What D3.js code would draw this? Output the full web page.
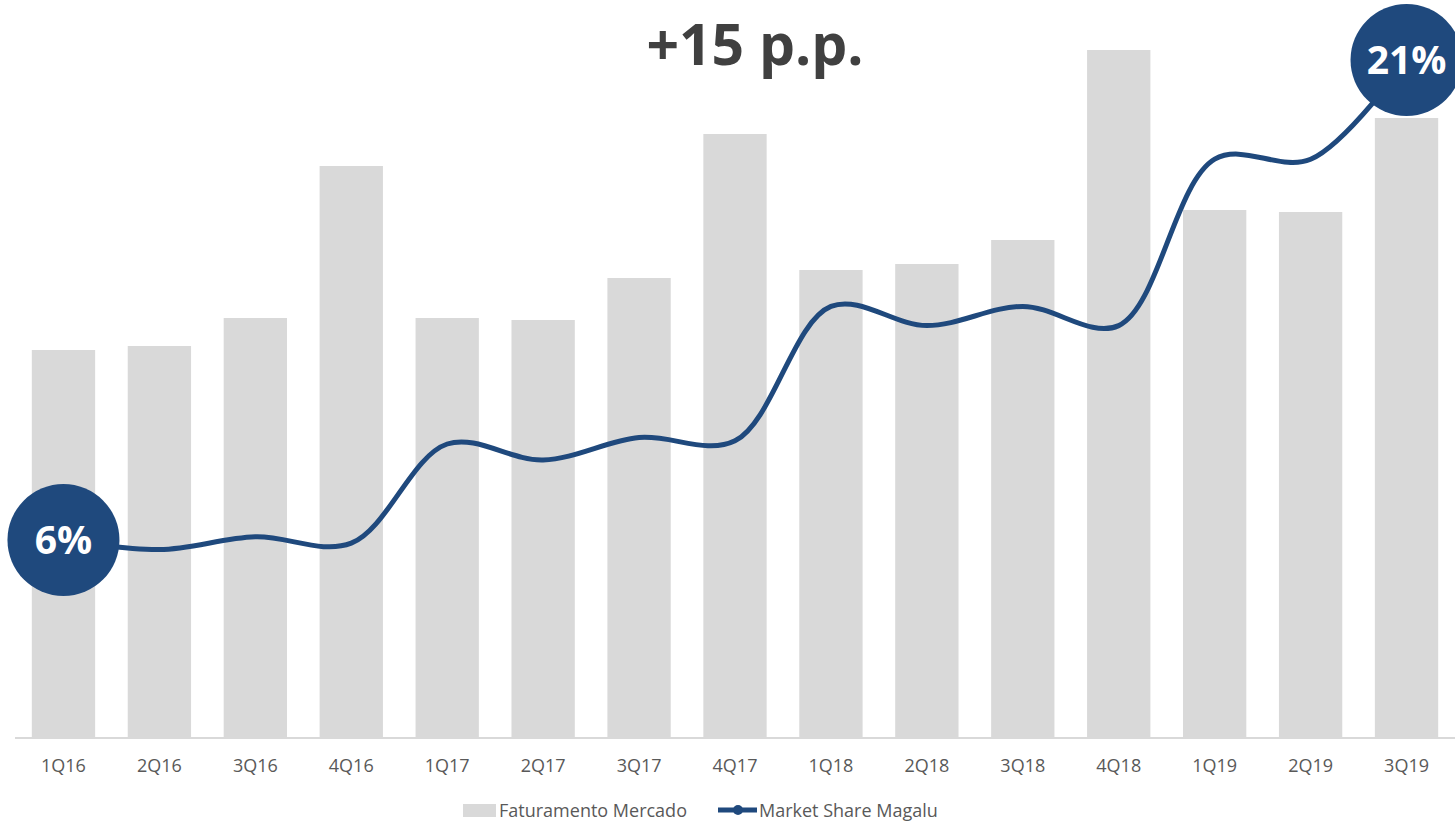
<!DOCTYPE html>
<html lang="en">
<head>
<meta charset="utf-8" />
<script src="https://d3js.org/d3.v7.min.js"></script>
<style>
  body { margin: 0; background: #fff; }
  text { font-family: "Open Sans", "DejaVu Sans", sans-serif; }
</style>
</head>
<body>
<script>
// quarters
var quarters = ["1Q16","2Q16","3Q16","4Q16","1Q17","2Q17","3Q17","4Q17","1Q18","2Q18","3Q18","4Q18","1Q19","2Q19","3Q19"];
// Faturamento Mercado (bars, estimated units)
var mercado = [9.7, 9.8, 10.5, 14.3, 10.5, 10.45, 11.5, 15.1, 11.7, 11.85, 12.45, 17.2, 13.2, 13.15, 15.5];
// Market Share Magalu (%)
var share = [6.0, 5.7, 6.1, 5.9, 9.0, 8.5, 9.2, 9.1, 13.3, 12.7, 13.3, 12.7, 17.9, 17.9, 21.0];

var w = 1455, h = 822;
var base = 738;

var svg = d3.select("body").append("svg")
    .attr("width", w)
    .attr("height", h);

var x = d3.scaleBand()
    .domain(quarters)
    .range([15.5, 1454.5])
    .paddingInner(0.34)
    .paddingOuter(0.17);

var yBar = d3.scaleLinear().domain([0, 18.45]).range([base, 0]);
var yLine = d3.scaleLinear().domain([0, 22.875]).range([732, 0]);

//bars
svg.selectAll("rect.bar")
    .data(mercado)
    .enter()
    .append("rect")
    .attr("class", "bar")
    .attr("x", function(d, i) { return x(quarters[i]); })
    .attr("y", function(d) { return yBar(d); })
    .attr("width", x.bandwidth())
    .attr("height", function(d) { return base - yBar(d); })
    .attr("fill", "#d9d9d9");

//x axis
var xAxis = svg.append("g")
    .attr("transform", "translate(0," + base + ")")
    .call(d3.axisBottom(x).tickSize(0).tickPadding(21));
xAxis.select(".domain").attr("stroke", "#d9d9d9").attr("stroke-width", 2)
    .attr("d", "M15,0H1455");
xAxis.selectAll("text")
    .attr("fill", "#595959")
    .style("font-size", "18px")
    .style("font-family", "'Open Sans', sans-serif");

//line
var line = d3.line()
    .x(function(d, i) { return x(quarters[i]) + x.bandwidth() / 2; })
    .y(function(d) { return yLine(d); })
    .curve(d3.curveCatmullRom.alpha(0.5));

svg.append("path")
    .datum(share)
    .attr("d", line)
    .attr("fill", "none")
    .attr("stroke", "#1f497d")
    .attr("stroke-width", 5);

//end markers
var ends = [0, share.length - 1];
var marks = svg.selectAll("g.mark")
    .data(ends)
    .enter()
    .append("g")
    .attr("class", "mark")
    .attr("transform", function(i) {
        return "translate(" + (x(quarters[i]) + x.bandwidth() / 2) + "," + yLine(share[i]) + ")";
    });
marks.append("circle")
    .attr("r", 56)
    .attr("fill", "#1f497d");
marks.append("text")
    .attr("text-anchor", "middle")
    .attr("dy", "0.36em")
    .attr("fill", "#fff")
    .style("font-size", "39px")
    .style("font-weight", 700)
    .text(function(i) { return d3.format(".0f")(share[i]) + "%"; });

//title
svg.append("text")
    .attr("x", 755)
    .attr("y", 65)
    .attr("text-anchor", "middle")
    .attr("fill", "#404040")
    .style("font-size", "57px")
    .style("font-weight", 700)
    .text("+15 p.p.");

//legend
var lg = svg.append("g");
lg.append("rect")
    .attr("x", 463).attr("y", 804)
    .attr("width", 33).attr("height", 13)
    .attr("fill", "#d9d9d9");
lg.append("text")
    .attr("x", 499).attr("y", 817)
    .attr("fill", "#595959")
    .style("font-size", "18px")
    .text("Faturamento Mercado");
lg.append("line")
    .attr("x1", 718).attr("x2", 757)
    .attr("y1", 810).attr("y2", 810)
    .attr("stroke", "#1f497d")
    .attr("stroke-width", 5);
lg.append("circle")
    .attr("cx", 738).attr("cy", 810).attr("r", 5)
    .attr("fill", "#1f497d");
lg.append("text")
    .attr("x", 759).attr("y", 817)
    .attr("fill", "#595959")
    .style("font-size", "18px")
    .text("Market Share Magalu");
</script>
</body>
</html>
